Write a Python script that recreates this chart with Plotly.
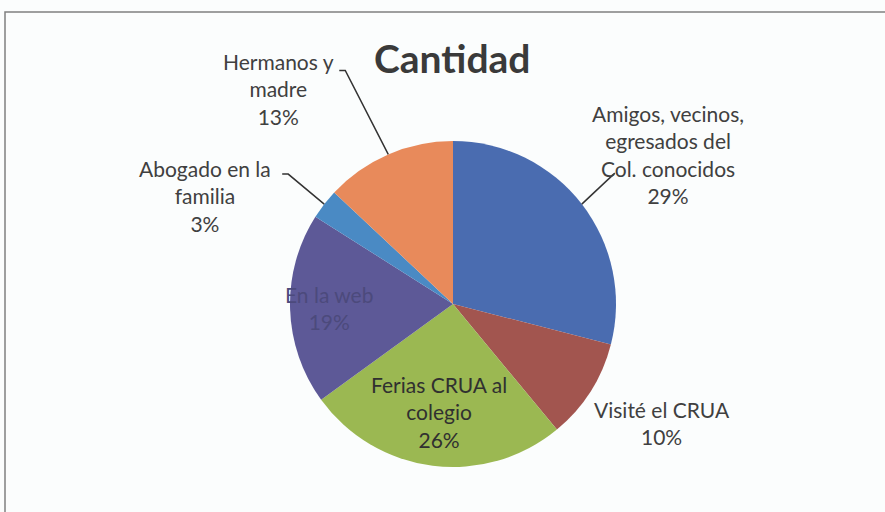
import math
import plotly.graph_objects as go

# ---- data ----
categories = ["Amigos, vecinos,<br>egresados del<br>Col. conocidos", "Visité el CRUA",
              "Ferias CRUA al<br>colegio", "En la web", "Abogado en la<br>familia", "Hermanos y<br>madre"]
values = [29, 10, 26, 19, 3, 13]
colors = ["#4a6cb0", "#a2554f", "#9bb852", "#5d5997", "#4a8ac4", "#e88a5b"]
title_text = "Cantidad"

# ---- layout constants ----
W, H = 885, 512
cx, cy, R = 453, 304, 163
# label placement: ("out", dx, dy) offset from slice edge midpoint, or ("in", radius fraction)
label_place = [("out", 86, -50), ("out", 71, 32), ("in", 0.67), ("in", 0.76),
               ("out", -119, -8), ("out", -110, -65)]
label_colors = ["#404040", "#404040", "#303030", "#4c4a7c", "#404040", "#404040"]
# leader lines: (start dx, start dy, tick dx) relative to edge midpoint, or None
leaders = [(33, -31, 0), None, None, None, (-36, -30, -6), (-43, -84, -6)]
FONT = "Lato, 'Open Sans', sans-serif"

def px(x):
    return x / W

def py(y):
    return 1 - y / H

total = sum(values)
fig = go.Figure(go.Pie(
    values=values, labels=[c.replace("<br>", " ") for c in categories],
    sort=False, direction="clockwise", rotation=0,
    marker=dict(colors=colors, line=dict(width=0)),
    textinfo="none", hoverinfo="label+percent", showlegend=False,
    domain=dict(x=[px(cx - R), px(cx + R)], y=[py(cy + R), py(cy - R)]),
))

annotations = []
shapes = []
cum = 0
for i, v in enumerate(values):
    mid = (cum + v / 2) / total * 2 * math.pi
    cum += v
    ex = cx + R * math.sin(mid)
    ey = cy - R * math.cos(mid)
    pct = round(v / total * 100)
    place = label_place[i]
    if place[0] == "out":
        tx, ty = ex + place[1], ey + place[2]
    else:
        tx = cx + R * place[1] * math.sin(mid)
        ty = cy - R * place[1] * math.cos(mid)
    annotations.append(dict(
        x=px(tx), y=py(ty), xref="paper", yref="paper", showarrow=False,
        xanchor="center", yanchor="middle", align="center",
        text=f"{categories[i]}<br>{pct}%",
        font=dict(family=FONT, size=21, color=label_colors[i]),
    ))
    ld = leaders[i]
    if ld is not None:
        sx, sy = ex + ld[0], ey + ld[1]
        path = f"M {px(sx + ld[2])},{py(sy)} L {px(sx)},{py(sy)} L {px(ex)},{py(ey)}"
        shapes.append(dict(type="path", xref="paper", yref="paper", path=path,
                           line=dict(color="#333333", width=1.5)))

annotations.append(dict(
    x=px(452), y=py(58), xref="paper", yref="paper", showarrow=False,
    xanchor="center", yanchor="middle", text=f"<b>{title_text}</b>",
    font=dict(family=FONT, size=39, color="#3a3a3a"),
))

shapes.append(dict(type="rect", xref="paper", yref="paper",
                   x0=px(5), y0=-0.05, x1=1.05, y1=py(12),
                   line=dict(color="#808080", width=1.5), layer="below"))

fig.update_layout(
    width=W, height=H, margin=dict(l=0, r=0, t=0, b=0),
    paper_bgcolor="#fbfdfd", plot_bgcolor="#fbfdfd",
    annotations=annotations, shapes=shapes,
)
fig.write_html("out.html", config={"displayModeBar": False},
               post_script="document.body.style.margin='0px';document.body.style.background='#fbfdfd';")
